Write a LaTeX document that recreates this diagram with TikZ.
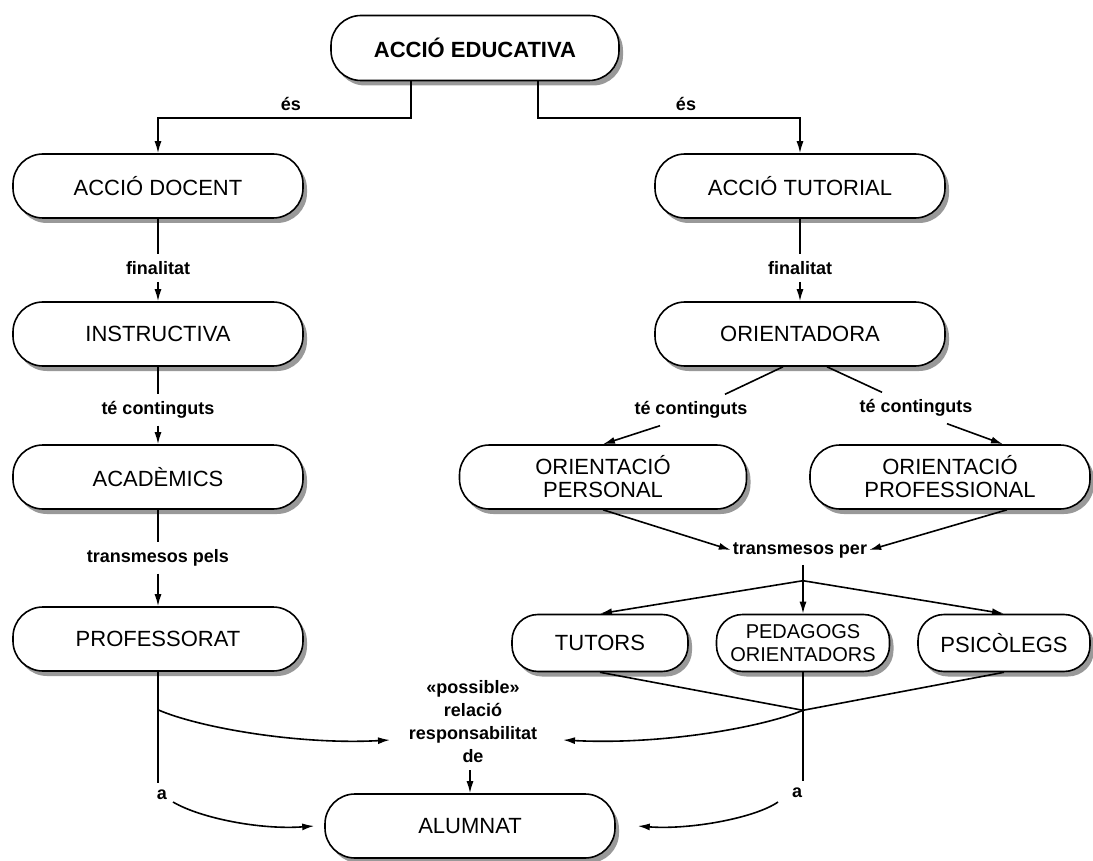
\documentclass[tikz,border=0pt]{standalone}
\usepackage{fontspec}
\setmainfont{Liberation Sans}
\usetikzlibrary{arrows.meta,shadows,calc}
\begin{document}
\begin{tikzpicture}[x=1pt,y=-1pt,
  box/.style={draw,line width=1.6pt,fill=white,rounded corners=30pt,minimum width=290pt,minimum height=64pt,inner sep=0pt,align=center,font=\fontsize{22}{23}\selectfont,
   drop shadow={shadow xshift=4pt,shadow yshift=-5pt,fill=black!40,opacity=1}},
  sbox/.style={box,minimum height=57pt,rounded corners=26pt},
  lbl/.style={inner xsep=2pt,inner ysep=7pt,align=center,font=\bfseries\fontsize{18}{23}\selectfont},
  con/.style={line width=1.6pt},
  arr/.style={con,-{Latex[length=12pt,width=7pt]}}]
\useasboundingbox (0,0) rectangle (1093,861);
\fill[white] (0,0) rectangle (1093,861);
% boxes
\node[box,minimum width=288pt,minimum height=65pt,font=\bfseries\fontsize{22}{23}\selectfont] (edu) at (475,48) {ACCIÓ EDUCATIVA};
\node[box] (docent) at (158,186) {ACCIÓ DOCENT};
\node[box] (instr) at (158,334) {INSTRUCTIVA};
\node[box] (acad) at (158,477) {ACADÈMICS};
\node[box] (prof) at (158,639) {PROFESSORAT};
\node[box] (tutorial) at (800,186) {ACCIÓ TUTORIAL};
\node[box] (orient) at (800,334) {ORIENTADORA};
\node[box,minimum width=287pt] (opers) at (603,477) {ORIENTACIÓ\\PERSONAL};
\node[box,minimum width=280pt] (oprof) at (950,477) {ORIENTACIÓ\\PROFESSIONAL};
\node[sbox,minimum width=176pt] (tutors) at (600,643) {TUTORS};
\node[sbox,minimum width=173pt,font=\fontsize{20}{23}\selectfont] (pedag) at (803,643) {PEDAGOGS\\ORIENTADORS};
\node[sbox,minimum width=172pt] (psico) at (1004,643) {PSICÒLEGS};
\node[box] (alum) at (470,826) {ALUMNAT};
% labels
\node[lbl] (es1) at (291,104) {és};
\node[lbl] (es2) at (686,104) {és};
\node[lbl] (fin1) at (158,268) {finalitat};
\node[lbl] (tc0) at (158,410) {té continguts};
\node[lbl] (tp0) at (158,558) {transmesos pels};
\node[lbl] (fin2) at (800,268) {finalitat};
\node[lbl] (tc1) at (691,410) {té continguts};
\node[lbl] (tc2) at (916,408) {té continguts};
\node[lbl] (tp1) at (800,550) {transmesos per};
\node[lbl] (poss) at (473,722) {«possible»\\relació\\responsabilitat\\de};
\node[lbl] (a1) at (162,795) {a};
\node[lbl] (a2) at (797,793) {a};
% coordinates
\coordinate (j1) at ($(pedag.north)+(0,-33)$);
\coordinate (j2) at ($(pedag.south)+(0,38)$);
\coordinate (k1) at ($(prof.south)+(0,38)$);
\coordinate (pR) at (563,740);
\coordinate (pL) at (390,740);
% connectors
\draw[arr] ([xshift=-64pt]edu.south) -- ++(0,37) -| (docent.north);
\draw[arr] ([xshift=63pt]edu.south) -- ++(0,37) -| (tutorial.north);
\draw[con] (docent.south) -- (fin1.north);
\draw[arr] (fin1.south) -- (instr.north);
\draw[con] (instr.south) -- (tc0.north);
\draw[arr] (tc0.south) -- (acad.north);
\draw[con] (acad.south) -- (tp0.north);
\draw[arr] (tp0.south) -- (prof.north);
\draw[con] (tutorial.south) -- (fin2.north);
\draw[arr] (fin2.south) -- (orient.north);
\draw[con] ([xshift=-17pt]orient.south) -- ([xshift=34pt]tc1.north);
\draw[arr] ([xshift=-31pt]tc1.south) -- (opers.north);
\draw[con] ([xshift=27pt]orient.south) -- ([xshift=-34pt]tc2.north);
\draw[arr] ([xshift=31pt]tc2.south) -- ([xshift=53pt]oprof.north);
\draw[arr] (opers.south) -- (tp1.west);
\draw[arr] ([xshift=57pt]oprof.south) -- (tp1.east);
\draw[arr] (tp1.south -| pedag.north) -- (pedag.north);
\draw[arr] (j1) -- (tutors.north);
\draw[arr] (j1) -- (psico.north);
\draw[con] (tutors.south) -- (j2) -- (psico.south);
\draw[con] (pedag.south) -- (pedag.south |- a2.north);
\draw[con] (prof.south) -- (prof.south |- a1.north);
\draw[arr] (j2) .. controls (760,728) and (660,745) .. (pR);
\draw[arr] (k1) .. controls (200,728) and (300,745) .. (pL);
\draw[arr] (poss.south -| alum.north) -- (alum.north);
\draw[arr] ([xshift=11pt,yshift=-7pt]a1.center) .. controls (200,818) and (260,830) .. ([xshift=-10pt]alum.west);
\draw[arr] ([xshift=-19pt,yshift=-9pt]a2.center) .. controls (755,818) and (690,830) .. ([xshift=22pt]alum.east);
\end{tikzpicture}
\end{document}
